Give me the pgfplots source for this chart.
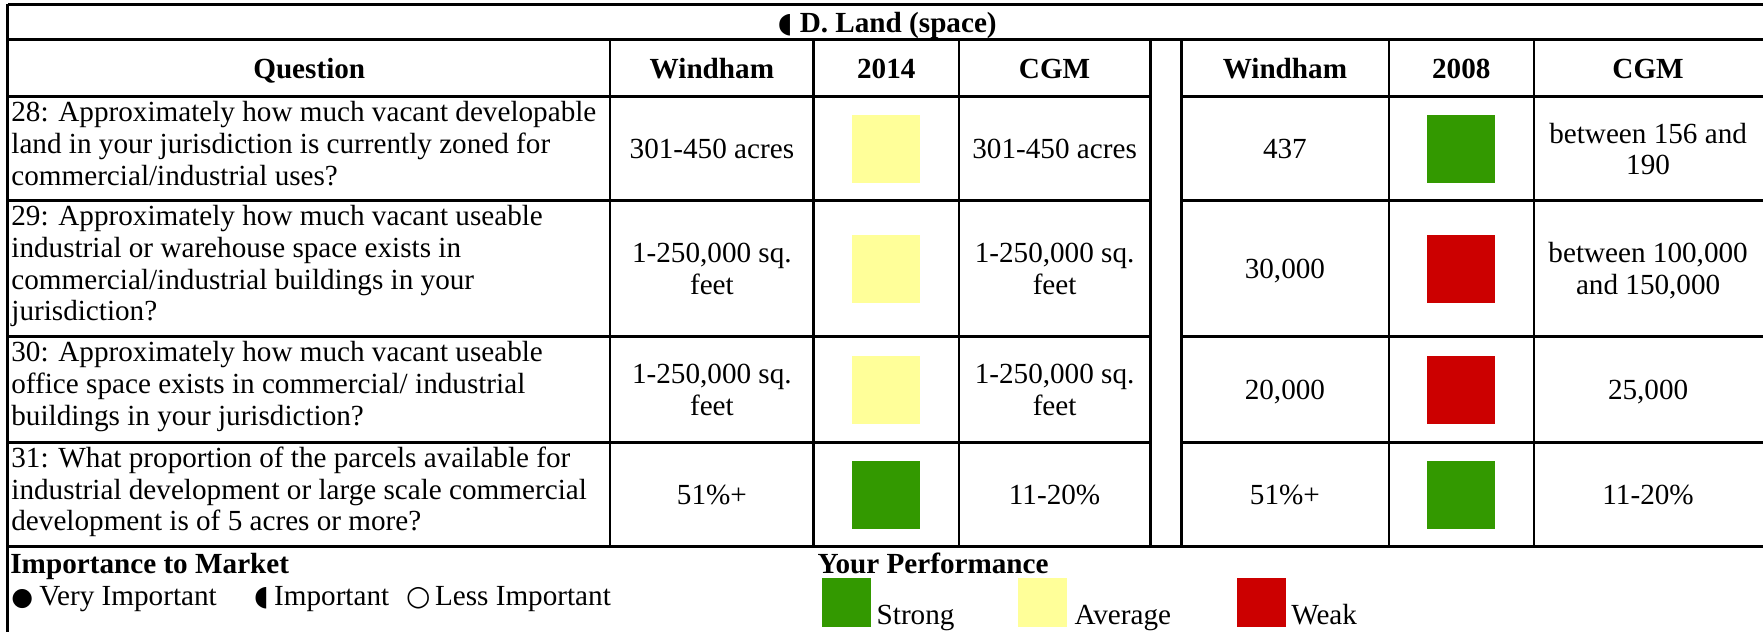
\documentclass[border=0pt]{standalone}
\usepackage{pgfplots}
\pgfplotsset{compat=1.18}
\usepackage{fontspec}
\setmainfont{Liberation Serif}
\newfontfamily\sym{DejaVu Sans}
\definecolor{cg}{HTML}{339900}
\definecolor{cy}{HTML}{FFFF99}
\definecolor{cr}{HTML}{CC0000}
\tikzset{t/.style={font=\fontsize{14.6}{15.8}\selectfont, inner sep=0pt},
  tb/.style={font=\fontsize{14.6}{15.8}\selectfont\bfseries, inner sep=0pt}}
\newcommand{\Lt}[3]{\node[t,anchor=base west] at (axis cs:#1,#2) {#3};}
\newcommand{\Ct}[3]{\node[t,anchor=base] at (axis cs:#1,#2) {#3};}
\newcommand{\Cb}[3]{\node[tb,anchor=base] at (axis cs:#1,#2) {#3};}
\newcommand{\Hl}[1]{\draw[line width=1.5pt] (axis cs:8,#1) -- (axis cs:1151,#1);
  \draw[line width=1.5pt] (axis cs:1182,#1) -- (axis cs:1764,#1);}
\begin{document}
\begin{tikzpicture}
\begin{axis}[width=882pt,height=316.5pt,scale only axis,
  xmin=0,xmax=1764,ymin=0,ymax=633,y dir=reverse,
  hide axis,clip=false]
\draw[draw=none] (axis cs:0,0) rectangle (axis cs:1764,633);
% squares (performance)
\addplot[only marks, mark=square*, mark size=16.75pt, color=cy, mark options={line width=0pt}]
  coordinates {(887,149) (887,269) (887,390)};
\addplot[only marks, mark=square*, mark size=16.75pt, color=cg, mark options={line width=0pt}]
  coordinates {(887,495) (1462.5,149) (1462.5,495)};
\addplot[only marks, mark=square*, mark size=16.75pt, color=cr, mark options={line width=0pt}]
  coordinates {(1462.5,269) (1462.5,390)};
% legend squares
\addplot[only marks, mark=square*, mark size=12pt, color=cg, mark options={line width=0pt}]
  coordinates {(847,603)};
\addplot[only marks, mark=square*, mark size=12pt, color=cy, mark options={line width=0pt}]
  coordinates {(1043,603)};
\addplot[only marks, mark=square*, mark size=12pt, color=cr, mark options={line width=0pt}]
  coordinates {(1262.5,603)};
% grid lines
\draw[line width=1.5pt] (axis cs:8,5) -- (axis cs:1764,5);
\draw[line width=1.5pt] (axis cs:8,40) -- (axis cs:1764,40);
\Hl{97}
\Hl{201}
\Hl{337}
\Hl{443}
\draw[line width=1.5pt] (axis cs:8,547) -- (axis cs:1764,547);
\draw[line width=1.5pt] (axis cs:8,4.3) -- (axis cs:8,633);
\draw[line width=1pt] (axis cs:611,40) -- (axis cs:611,547);
\draw[line width=1.3pt] (axis cs:814,40) -- (axis cs:814,547);
\draw[line width=1.3pt] (axis cs:960,40) -- (axis cs:960,547);
\draw[line width=1.5pt] (axis cs:1151,40) -- (axis cs:1151,547);
\draw[line width=1.5pt] (axis cs:1182,40) -- (axis cs:1182,547);
\draw[line width=1.2pt] (axis cs:1390,40) -- (axis cs:1390,547);
\draw[line width=1.2pt] (axis cs:1535,40) -- (axis cs:1535,547);
% title and header
\Cb{888}{33}{{\sym\mdseries\fontsize{14}{14}\selectfont ◖} D. Land (space)}
\Cb{309.5}{79}{Question}
\Cb{712.5}{79}{Windham}
\Cb{887}{79}{2014}
\Cb{1055.5}{79}{CGM}
\Cb{1286}{79}{Windham}
\Cb{1462.5}{79}{2008}
\Cb{1649.5}{79}{CGM}
% row 28
\Lt{11}{122}{28: Approximately how much vacant developable}
\Lt{11}{153.7}{land in your jurisdiction is currently zoned for}
\Lt{11}{185.4}{commercial/industrial uses?}
\Ct{712.5}{159}{301-450 acres}
\Ct{1055.5}{159}{301-450 acres}
\Ct{1286}{159}{437}
\Ct{1649.5}{143.2}{between 156 and}
\Ct{1649.5}{174.9}{190}
% row 29
\Lt{11}{226}{29: Approximately how much vacant useable}
\Lt{11}{257.7}{industrial or warehouse space exists in}
\Lt{11}{289.4}{commercial/industrial buildings in your}
\Lt{11}{321.1}{jurisdiction?}
\Ct{712.5}{263.2}{1-250,000 sq.}
\Ct{712.5}{294.9}{feet}
\Ct{1055.5}{263.2}{1-250,000 sq.}
\Ct{1055.5}{294.9}{feet}
\Ct{1286}{279}{30,000}
\Ct{1649.5}{263.2}{between 100,000}
\Ct{1649.5}{294.9}{and 150,000}
% row 30
\Lt{11}{362}{30: Approximately how much vacant useable}
\Lt{11}{393.7}{office space exists in commercial/ industrial}
\Lt{11}{425.4}{buildings in your jurisdiction?}
\Ct{712.5}{384.2}{1-250,000 sq.}
\Ct{712.5}{415.9}{feet}
\Ct{1055.5}{384.2}{1-250,000 sq.}
\Ct{1055.5}{415.9}{feet}
\Ct{1286}{400}{20,000}
\Ct{1649.5}{400}{25,000}
% row 31
\Lt{11}{468}{31: What proportion of the parcels available for}
\Lt{11}{499.7}{industrial development or large scale commercial}
\Lt{11}{531.4}{development is of 5 acres or more?}
\Ct{712.5}{505}{51\%+}
\Ct{1055.5}{505}{11-20\%}
\Ct{1286}{505}{51\%+}
\Ct{1649.5}{505}{11-20\%}
% legend
\node[tb,anchor=base west] at (axis cs:10,574) {Importance to Market};
\node[t,anchor=base west] at (axis cs:11,606) {{\sym\fontsize{12.5}{14}\selectfont ●}};
\node[t,anchor=base west] at (axis cs:39,606) {Very Important};
\node[t,anchor=base west] at (axis cs:254,606) {{\sym\fontsize{14}{14}\selectfont ◖}};
\node[t,anchor=base west] at (axis cs:274,606) {Important};
\node[t,anchor=base west] at (axis cs:406,606) {{\sym\bfseries\fontsize{14}{14}\selectfont ○}};
\node[t,anchor=base west] at (axis cs:435,606) {Less Important};
\node[tb,anchor=base west] at (axis cs:818,574) {Your Performance};
\Lt{877}{625}{Strong}
\Lt{1075}{625}{Average}
\Lt{1292}{625}{Weak}
\end{axis}
\end{tikzpicture}
\end{document}
